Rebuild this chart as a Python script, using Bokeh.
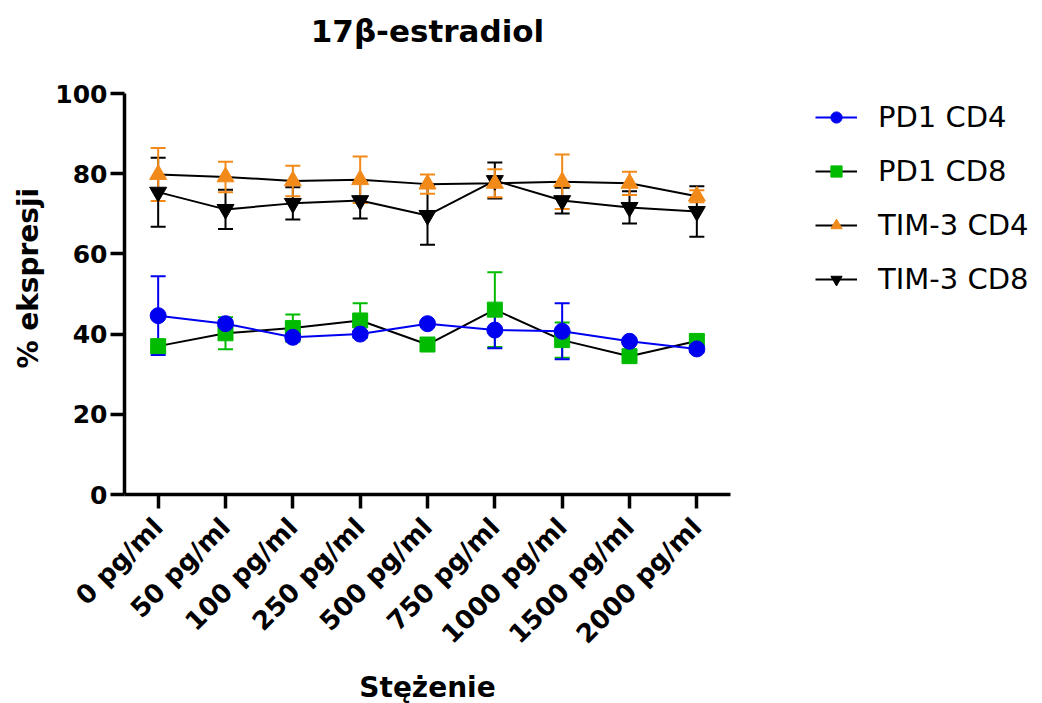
import math
from bokeh.plotting import figure
from bokeh.layouts import column, row
from bokeh.models import (Range1d, FixedTicker, ColumnDataSource, Whisker,
                          TeeHead, Legend, LegendItem, Label)
from bokeh.embed import file_html
from bokeh.resources import INLINE

concentrations = ["0 pg/ml", "50 pg/ml", "100 pg/ml", "250 pg/ml", "500 pg/ml",
                  "750 pg/ml", "1000 pg/ml", "1500 pg/ml", "2000 pg/ml"]

pd1_cd4 = [44.6, 42.6, 39.2, 40.0, 42.6, 41.0, 40.7, 38.2, 36.3]
pd1_cd4_err = [9.8, 0.8, 0.8, 0.8, 0.6, 4.5, 7.0, 0.6, 0.8]

pd1_cd8 = [37.0, 40.2, 41.5, 43.4, 37.4, 46.1, 38.5, 34.5, 38.3]
pd1_cd8_err = [1.5, 4.0, 3.4, 4.3, 1.5, 9.3, 4.4, 1.5, 1.5]

tim3_cd4 = [79.8, 79.2, 78.2, 78.5, 77.4, 77.6, 78.0, 77.6, 74.4]
tim3_cd4_err = [6.6, 3.8, 3.8, 5.8, 2.4, 3.5, 6.8, 2.9, 1.5]

tim3_cd8 = [75.4, 71.1, 72.6, 73.3, 69.6, 78.3, 73.3, 71.6, 70.6]
tim3_cd8_err = [8.6, 4.9, 4.0, 4.5, 7.3, 4.5, 3.2, 4.0, 6.3]

series_names = ["PD1 CD4", "PD1 CD8", "TIM-3 CD4", "TIM-3 CD8"]
y_ticks = [0, 20, 40, 60, 80, 100]

FONT = "DejaVu Sans"

# page layout (pixels, window coordinates)
W, H = 1042, 703
TITLE_H = 60                 # strip with the chart title
XLAB_H = 33                  # strip with the x axis title
YLAB_W = 45                  # strip with the y axis title
BODY_H = H - TITLE_H - XLAB_H
MAIN_W = W - YLAB_W
FL, FR, FT, FB = 124, 1037, 93, 494     # plot frame edges
AX_R = 730                                # where the x axis ends
n = len(concentrations)
x_idx = list(range(n))
px_per_cat = (AX_R - FL) / n
x_end = -0.5 + (FR - FL) / px_per_cat

BLUE = "#0000f0"
GREEN = "#00bb00"
ORANGE = "#f28a1a"
BLACK = "#000000"


def blank(width, height):
    f = figure(width=width, height=height, x_range=Range1d(0, width), y_range=Range1d(0, height),
               x_axis_type=None, y_axis_type=None, output_backend="svg",
               toolbar_location=None, min_border=0)
    f.outline_line_color = None
    f.xgrid.visible = False
    f.ygrid.visible = False
    return f


def strip_label(fig, x, y, text, angle=0.0, size="28px"):
    fig.add_layout(Label(x=x, y=y, text=text, angle=angle,
                         text_font=FONT, text_font_size=size, text_font_style="bold",
                         text_color="black", text_align="center", text_baseline="middle"))


# ---- title strip
tf = blank(W, TITLE_H)
strip_label(tf, 427, TITLE_H - 30, "17β-estradiol", size="31px")

# ---- y axis title strip (rotated text is anchored 48 px off, corrected here)
yf = blank(YLAB_W, BODY_H)
strip_label(yf, 28, BODY_H - (341 - TITLE_H), "% ekspresji", angle=math.pi / 2)

# ---- x axis title strip
xf = blank(W, XLAB_H)
strip_label(xf, 427, H - 687, "Stężenie")

# ---- main chart
p = figure(width=MAIN_W, height=BODY_H,
           x_range=Range1d(-0.5, x_end), y_range=Range1d(0, max(y_ticks)),
           output_backend="svg", toolbar_location=None,
           min_border_left=FL - YLAB_W, min_border_right=W - FR,
           min_border_top=FT - TITLE_H, min_border_bottom=TITLE_H + BODY_H - FB)
p.title.text = ""
p.title.standoff = 0
p.outline_line_color = None
p.xgrid.visible = False
p.ygrid.visible = False

for ax in (p.xaxis[0], p.yaxis[0]):
    ax.axis_line_width = 3.5
    ax.axis_line_color = "black"
    ax.major_tick_line_width = 3.5
    ax.major_tick_line_color = "black"
    ax.major_tick_out = 14
    ax.major_tick_in = 0
    ax.minor_tick_line_color = None
    ax.major_label_text_font = FONT
    ax.major_label_text_font_style = "bold"
    ax.major_label_text_color = "black"

p.yaxis.ticker = FixedTicker(ticks=y_ticks)
p.yaxis.major_label_text_font_size = "25px"
p.yaxis.major_label_standoff = 3

p.xaxis.ticker = FixedTicker(ticks=x_idx)
p.xaxis.bounds = (-0.5, n - 0.5)
p.xaxis.major_label_overrides = {i: c for i, c in zip(x_idx, concentrations)}
p.xaxis.major_label_orientation = math.pi / 4
p.xaxis.major_label_text_font_size = "26px"
p.xaxis.major_label_standoff = 14

specs = [
    ("TIM-3 CD8", tim3_cd8, tim3_cd8_err, BLACK, BLACK, "inverted_triangle", 17),
    ("TIM-3 CD4", tim3_cd4, tim3_cd4_err, ORANGE, BLACK, "triangle", 17),
    ("PD1 CD8", pd1_cd8, pd1_cd8_err, GREEN, BLACK, "square", 15),
    ("PD1 CD4", pd1_cd4, pd1_cd4_err, BLUE, BLUE, "circle", 16),
]
renderers = {}
for name, vals, errs, mcol, lcol, marker, size in specs:
    src = ColumnDataSource(dict(
        x=x_idx, y=vals,
        upper=[v + e for v, e in zip(vals, errs)],
        lower=[v - e for v, e in zip(vals, errs)]))
    p.add_layout(Whisker(base="x", upper="upper", lower="lower", source=src,
                         line_color=mcol, line_width=2,
                         upper_head=TeeHead(size=15, line_color=mcol, line_width=2),
                         lower_head=TeeHead(size=15, line_color=mcol, line_width=2)))
    lr = p.line("x", "y", source=src, line_color=lcol, line_width=2)
    sr = p.scatter("x", "y", source=src, marker=marker, size=size,
                   fill_color=mcol, line_color=mcol)
    renderers[name] = [lr, sr]

legend = Legend(items=[LegendItem(label=nm, renderers=renderers[nm]) for nm in series_names],
                location=(815 - FL, FB - 296), orientation="vertical",
                border_line_color=None, background_fill_alpha=0,
                label_text_font=FONT, label_text_font_size="29px",
                label_text_color="black",
                glyph_width=42, glyph_height=28, label_standoff=21,
                spacing=20, padding=0, margin=0)
p.add_layout(legend)

layout = column(tf, row(yf, p), xf)
open("out.html", "w").write(file_html(layout, INLINE))
